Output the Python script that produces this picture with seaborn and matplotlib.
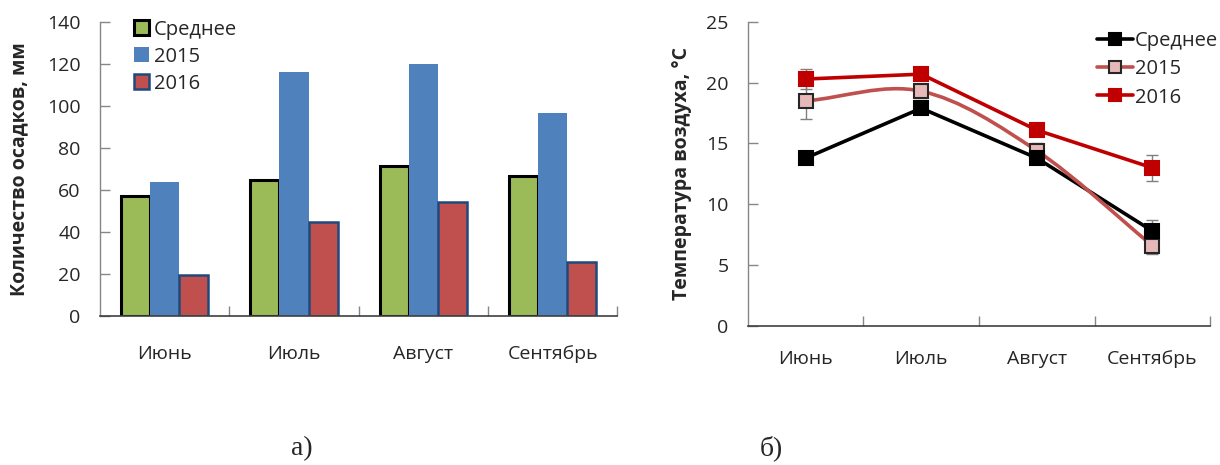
import numpy as np
import pandas as pd
import matplotlib
matplotlib.use("Agg")
import matplotlib.pyplot as plt
from matplotlib.path import Path
from matplotlib.patches import PathPatch, Patch
from matplotlib.lines import Line2D
import seaborn as sns

# ---- data ----
months = ["Июнь", "Июль", "Август", "Сентябрь"]
series = ["Среднее", "2015", "2016"]

precip_mean = [57, 65, 71.5, 66.5]
precip_2015 = [64, 116, 120, 96.5]
precip_2016 = [19.5, 45, 54.5, 26]

temp_mean = [13.8, 17.9, 13.8, 7.8]
temp_2015 = [18.5, 19.3, 14.4, 6.6]
temp_2016 = [20.3, 20.7, 16.1, 13.0]

err_mean = [0, 0, 0, 0.9]
err_2015 = [1.5, 0.6, 0.6, 0.7]
err_2016 = [0.8, 0.5, 0, 1.05]

sns.set_theme(style="white")
plt.rcParams["font.family"] = ["Open Sans", "DejaVu Sans"]

fig = plt.figure(figsize=(12.2, 4.65), dpi=100)
ax1 = fig.add_axes([0.082, 0.320, 0.424, 0.633])
ax2 = fig.add_axes([0.613, 0.299, 0.379, 0.654])

tick_fs = 14
label_fs = 14
axis_col = "#868686"

# ---- left: precipitation bars ----
precip = pd.DataFrame({
    "month": months * 3,
    "series": [s for s in series for _ in months],
    "value": precip_mean + precip_2015 + precip_2016,
})
bar_fill = {"Среднее": "#9BBB59", "2015": "#4F81BD", "2016": "#C0504D"}
bar_edge = {"Среднее": ("black", 2.2), "2015": ("none", 0), "2016": ("#1F497D", 1.8)}

sns.barplot(data=precip, x="month", y="value", hue="series", order=months,
            hue_order=series, palette=bar_fill, width=0.675, saturation=1,
            legend=False, ax=ax1)
handles = []
for cont, s in zip(ax1.containers, series):
    ec, lw = bar_edge[s]
    for p in cont:
        p.set_edgecolor(ec)
        p.set_linewidth(lw)
    handles.append(Patch(facecolor=bar_fill[s], edgecolor=ec, linewidth=lw, label=s))

ax1.set_xlim(-0.5, 3.5)
ax1.set_ylim(0, 140)
ax1.set_yticks(np.arange(0, 141, 20))
ax1.set_xticks(np.arange(4))
ax1.set_xticklabels(months)
ax1.set_xticks(np.arange(4) + 0.5, minor=True)
ax1.set_xlabel("")
ax1.set_ylabel("Количество осадков, мм", fontsize=label_fs, fontweight="bold", labelpad=13)
ax1.legend(handles=handles, loc="upper left", bbox_to_anchor=(0.05, 1.035),
           frameon=False, fontsize=14.5, handlelength=0.75, handleheight=0.75,
           handletextpad=0.25, labelspacing=0.35, borderaxespad=0)

# ---- right: air temperature lines ----
temp = pd.DataFrame({
    "month": months * 3,
    "series": [s for s in series for _ in months],
    "value": temp_mean + temp_2015 + temp_2016,
})
x = np.arange(4)
line_col = {"Среднее": "black", "2015": "#C0504D", "2016": "#C00000"}
mk_face = {"Среднее": "black", "2015": "#E6B9B8", "2016": "#C00000"}
mk_edge = {"Среднее": "black", "2015": "#262626", "2016": "#C00000"}
errs = {"Среднее": err_mean, "2015": err_2015, "2016": err_2016}
vals = {"Среднее": temp_mean, "2015": temp_2015, "2016": temp_2016}

# error bars
for s in series:
    e = np.array(errs[s])
    m = e > 0
    ax2.errorbar(x[m], np.array(vals[s])[m], yerr=e[m], fmt="none",
                 ecolor="#7F7F7F", elinewidth=1.0, capsize=4, capthick=1.0, zorder=2)

# straight lines for the mean and 2016
sns.lineplot(data=temp[temp.series != "2015"], x="month", y="value",
             hue="series", hue_order=["Среднее", "2016"],
             palette={"Среднее": "black", "2016": "#C00000"},
             sort=False, linewidth=2.6, legend=False, ax=ax2, zorder=3)

# smoothed line for 2015 (Catmull-Rom style Bezier through the points)
y15 = np.array(temp_2015)
pts = np.column_stack([x, y15]).astype(float)
tang = np.zeros_like(pts)
tang[1:-1] = (pts[2:] - pts[:-2]) / 2
tang[0] = pts[1] - pts[0]
tang[-1] = pts[-1] - pts[-2]
verts = [tuple(pts[0])]
codes = [Path.MOVETO]
for i in range(len(pts) - 1):
    c1 = pts[i] + tang[i] / 3
    c2 = pts[i + 1] - tang[i + 1] / 3
    verts += [tuple(c1), tuple(c2), tuple(pts[i + 1])]
    codes += [Path.CURVE4] * 3
ax2.add_patch(PathPatch(Path(verts, codes), facecolor="none",
                        edgecolor=line_col["2015"], linewidth=2.6, zorder=3))

# markers
for s, z in [("2015", 4), ("Среднее", 5), ("2016", 6)]:
    ax2.plot(x, vals[s], linestyle="none", marker="s", markersize=10,
             markerfacecolor=mk_face[s], markeredgecolor=mk_edge[s],
             markeredgewidth=1.5, zorder=z)

ax2.set_xlim(-0.5, 3.5)
ax2.set_ylim(0, 25)
ax2.set_yticks(np.arange(0, 26, 5))
ax2.set_xticks(x)
ax2.set_xticklabels(months)
ax2.set_xticks(x + 0.5, minor=True)
ax2.set_xlabel("")
ax2.set_ylabel("Температура воздуха, °C", fontsize=label_fs, fontweight="bold", labelpad=10)

leg_handles = [Line2D([0], [0], color=line_col[s], linewidth=2.6, marker="s",
                      markersize=9, markerfacecolor=mk_face[s],
                      markeredgecolor=mk_edge[s], markeredgewidth=1.5, label=s)
               for s in series]
ax2.legend(handles=leg_handles, loc="upper right", bbox_to_anchor=(1.035, 0.995),
           frameon=False, fontsize=14.5, handlelength=1.8, handletextpad=0.1,
           labelspacing=0.4, borderaxespad=0)

# ---- shared axis styling ----
for ax, xpad in ((ax1, 21), (ax2, 17)):
    for side in ("top", "right"):
        ax.spines[side].set_visible(False)
    ax.spines["left"].set_color(axis_col)
    ax.spines["bottom"].set_color("#404040")
    ax.spines["left"].set_linewidth(1.0)
    ax.spines["bottom"].set_linewidth(1.2)
    ax.tick_params(axis="y", which="major", direction="in", length=7, width=1,
                   color=axis_col, labelsize=tick_fs, pad=14, left=True)
    ax.tick_params(axis="x", which="major", length=0, labelsize=tick_fs, pad=xpad)
    ax.tick_params(axis="x", which="minor", direction="in", length=7, width=1,
                   color=axis_col, bottom=True)

serif = ["Liberation Serif", "DejaVu Serif"]
fig.text(0.2475, 0.022, "а)", fontsize=20, family=serif, ha="center", va="baseline")
fig.text(0.632, 0.022, "б)", fontsize=20, family=serif, ha="center", va="baseline")

fig.savefig("out.png", dpi=100, facecolor="white")
